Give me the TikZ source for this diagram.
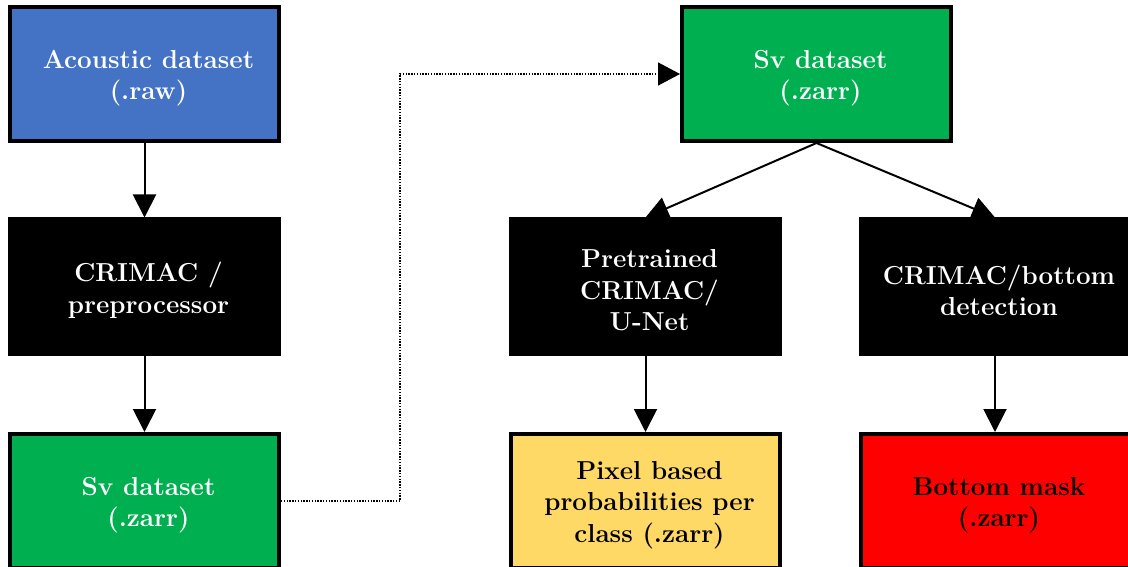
\documentclass[tikz,border=0pt]{standalone}
\usetikzlibrary{arrows.meta}
\definecolor{boxblue}{HTML}{4472C4}
\definecolor{boxgreen}{HTML}{00B050}
\definecolor{boxyellow}{HTML}{FFD966}
\definecolor{boxred}{HTML}{FF0000}
\begin{document}
\begin{tikzpicture}[x=1pt,y=-1pt,
  box/.style={draw=black,line width=4pt,minimum width=269pt,minimum height=134pt,inner sep=0pt},
  txt/.style={align=center,inner sep=0pt,font=\fontsize{26}{31.5}\selectfont\bfseries,xshift=4pt,yshift=-4pt},
  wtxt/.style={txt,text=white},
  btxt/.style={txt,text=black},
  conn/.style={line width=2pt,-{Triangle[length=23pt,width=23pt]}},
  dotconn/.style={line width=1.5pt,dash pattern=on 1.4pt off 1.4pt,-{Triangle[length=22pt,width=23pt]}}]
\useasboundingbox (0,0) rectangle (1128,567);
\node[box,fill=boxblue,label={[wtxt]center:{Acoustic dataset\\(.raw)}}] (A) at (144.5,74) {};
\node[box,fill=black,label={[wtxt]center:{CRIMAC /\\preprocessor}}] (B) at (144.5,286.5) {};
\node[box,fill=boxgreen,label={[wtxt]center:{Sv dataset\\(.zarr)}}] (C) at (144.5,501) {};
\node[box,fill=boxgreen,label={[wtxt]center:{Sv dataset\\(.zarr)}}] (D) at (816.5,74) {};
\node[box,fill=black,label={[wtxt]center:{Pretrained\\CRIMAC/\\U-Net}}] (E) at (645.5,286.5) {};
\node[box,fill=black,label={[wtxt]center:{CRIMAC/bottom\\detection}}] (F) at (995,286.5) {};
\node[box,fill=boxyellow,label={[btxt]center:{Pixel based\\probabilities per\\class (.zarr)}}] (G) at (645.5,501) {};
\node[box,fill=boxred,label={[btxt]center:{Bottom mask\\(.zarr)}}] (H) at (995,501) {};
\coordinate (k1) at (400,501);
\coordinate (k2) at (400,74);
\draw[conn] (A) -- (B);
\draw[conn] (B) -- (C);
\draw[dotconn] (C.east) -- (k1) -- (k2) -- (D.west);
\draw[conn] (D.south) -- (E.north);
\draw[conn] (D.south) -- (F.north);
\draw[conn] (E) -- (G);
\draw[conn] (F) -- (H);
\end{tikzpicture}
\end{document}
